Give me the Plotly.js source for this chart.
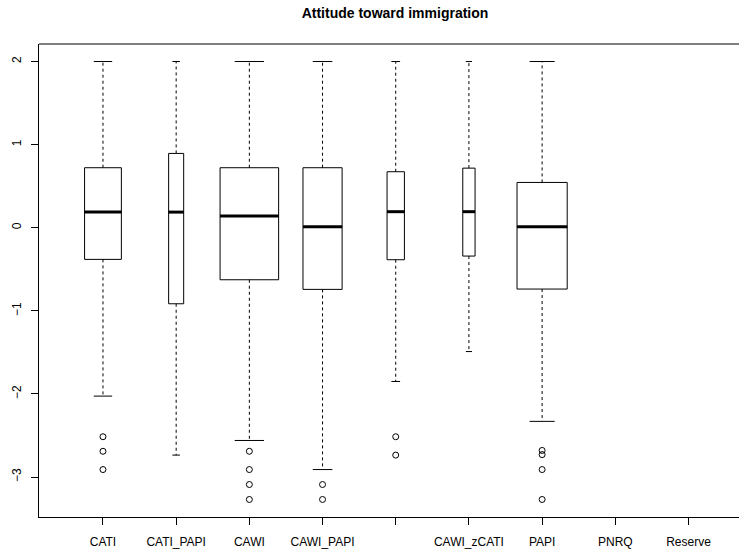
<!DOCTYPE html>
<html>
<head>
<meta charset="utf-8">
<script src="https://cdn.plot.ly/plotly-3.0.1.min.js"></script>
<style>html,body{margin:0;padding:0;background:#fff;}#chart{width:739px;height:551px;}</style>
</head>
<body>
<div id="chart"></div>
<script>
// ---- data ----
var categories = ["CATI", "CATI_PAPI", "CAWI", "CAWI_PAPI", "", "CAWI_zCATI", "PAPI", "PNRQ", "Reserve"];
var sampleSize = [395, 66, 1000, 447, 88, 44, 734, 0, 0];
var q1Values = [-0.381, -0.915, -0.626, -0.742, -0.385, -0.341, -0.738, null, null];
var medianValues = [0.188, 0.188, 0.140, 0.012, 0.193, 0.193, 0.012, null, null];
var q3Values = [0.722, 0.894, 0.722, 0.722, 0.674, 0.717, 0.545, null, null];
var lowerWhisker = [-2.026, -2.736, -2.56, -2.91, -1.85, -1.49, -2.33, null, null];
var upperWhisker = [2.0, 2.0, 2.0, 2.0, 2.0, 2.0, 2.0, null, null];
var outlierGroups = [
  [-2.515, -2.69, -2.91],
  [],
  [-2.69, -2.91, -3.09, -3.27],
  [-3.09, -3.27],
  [-2.515, -2.736],
  [],
  [-2.68, -2.73, -2.91, -3.27],
  [],
  []
];
var yTicks = [-3, -2, -1, 0, 1, 2];

// ---- build traces ----
var positions = categories.map(function (c, i) { return i + 1; });
var maxN = Math.max.apply(null, sampleSize);
var widths = sampleSize.map(function (n) { return 0.8 * Math.sqrt(n / maxN); });

var traces = [];
var wx = [], wy = [], cx = [], cy = [], mx = [], my = [], ox = [], oy = [];
for (var i = 0; i < categories.length; i++) {
  if (q1Values[i] === null) continue;
  var p = positions[i], w = widths[i];
  // dashed whiskers
  wx.push(p, p, null, p, p, null);
  wy.push(q3Values[i], upperWhisker[i], null, q1Values[i], lowerWhisker[i], null);
  // staples
  cx.push(p - w / 4, p + w / 4, null, p - w / 4, p + w / 4, null);
  cy.push(upperWhisker[i], upperWhisker[i], null, lowerWhisker[i], lowerWhisker[i], null);
  // medians
  mx.push(p - w / 2, p + w / 2, null);
  my.push(medianValues[i], medianValues[i], null);
  outlierGroups[i].forEach(function (v) { ox.push(p); oy.push(v); });
  traces.push({
    type: 'box', x: [p], q1: [q1Values[i]], median: [medianValues[i]], q3: [q3Values[i]],
    lowerfence: [q1Values[i]], upperfence: [q3Values[i]],
    width: w, whiskerwidth: 0, boxpoints: false,
    fillcolor: '#ffffff', line: {color: '#000000', width: 1},
    hoverinfo: 'skip', showlegend: false
  });
}
traces.unshift({
  type: 'scatter', mode: 'lines', x: wx, y: wy, connectgaps: false,
  line: {color: '#000000', width: 1, dash: '3px,3px'}, hoverinfo: 'skip', showlegend: false
});
traces.push({
  type: 'scatter', mode: 'lines', x: cx, y: cy, line: {color: '#000000', width: 1},
  hoverinfo: 'skip', showlegend: false
});
traces.push({
  type: 'scatter', mode: 'lines', x: mx, y: my, line: {color: '#000000', width: 3},
  hoverinfo: 'skip', showlegend: false
});
traces.push({
  type: 'scatter', mode: 'markers', x: ox, y: oy,
  marker: {symbol: 'circle-open', size: 6, color: '#000000', line: {width: 1, color: '#000000'}},
  hoverinfo: 'skip', showlegend: false
});

// R-style axis extension (4%)
var allVals = [];
for (var j = 0; j < categories.length; j++) {
  if (upperWhisker[j] !== null) allVals.push(upperWhisker[j], lowerWhisker[j]);
  allVals = allVals.concat(outlierGroups[j]);
}
var yMin = Math.min.apply(null, allVals), yMax = Math.max.apply(null, allVals);
var yExt = (yMax - yMin) * 0.04;

var font = {family: 'Liberation Sans, Arial, Helvetica, sans-serif', size: 12, color: '#000000'};

var layout = {
  width: 739, height: 551,
  margin: {l: 39, r: 0, t: 44, b: 34, pad: 0},
  paper_bgcolor: '#ffffff', plot_bgcolor: '#ffffff',
  font: font,
  boxmode: 'overlay',
  showlegend: false,
  title: {
    text: 'Attitude toward immigration',
    font: {family: font.family, size: 14, color: '#000000', weight: 'bold'},
    xref: 'paper', x: 0.5086, xanchor: 'center',
    yref: 'container', y: 0.977, yanchor: 'middle'
  },
  xaxis: {
    range: [0.126, 9.69],
    tickmode: 'array', tickvals: positions, ticktext: categories,
    showgrid: false, zeroline: false,
    showline: true, linecolor: '#000000', linewidth: 1,
    ticks: 'outside', ticklen: 7, tickcolor: '#000000', tickwidth: 1,
    tickfont: font, tickangle: 0, ticklabelstandoff: 7
  },
  yaxis: {
    range: [yMin - yExt, yMax + yExt],
    tickmode: 'array', tickvals: yTicks,
    ticktext: yTicks.map(function (v) { return String(v).replace('-', '\u2212'); }),
    showgrid: false, zeroline: false,
    showline: true, linecolor: '#000000', linewidth: 1,
    ticks: 'outside', ticklen: 7, tickcolor: '#000000', tickwidth: 1,
    tickfont: font, tickangle: -90, ticklabelstandoff: 5
  },
  shapes: [
    {type: 'line', xref: 'paper', yref: 'paper', x0: 0, x1: 1, y0: 1, y1: 1,
     line: {color: '#000000', width: 1}}
  ]
};

Plotly.newPlot('chart', traces, layout, {staticPlot: true, displayModeBar: false});
</script>
</body>
</html>
